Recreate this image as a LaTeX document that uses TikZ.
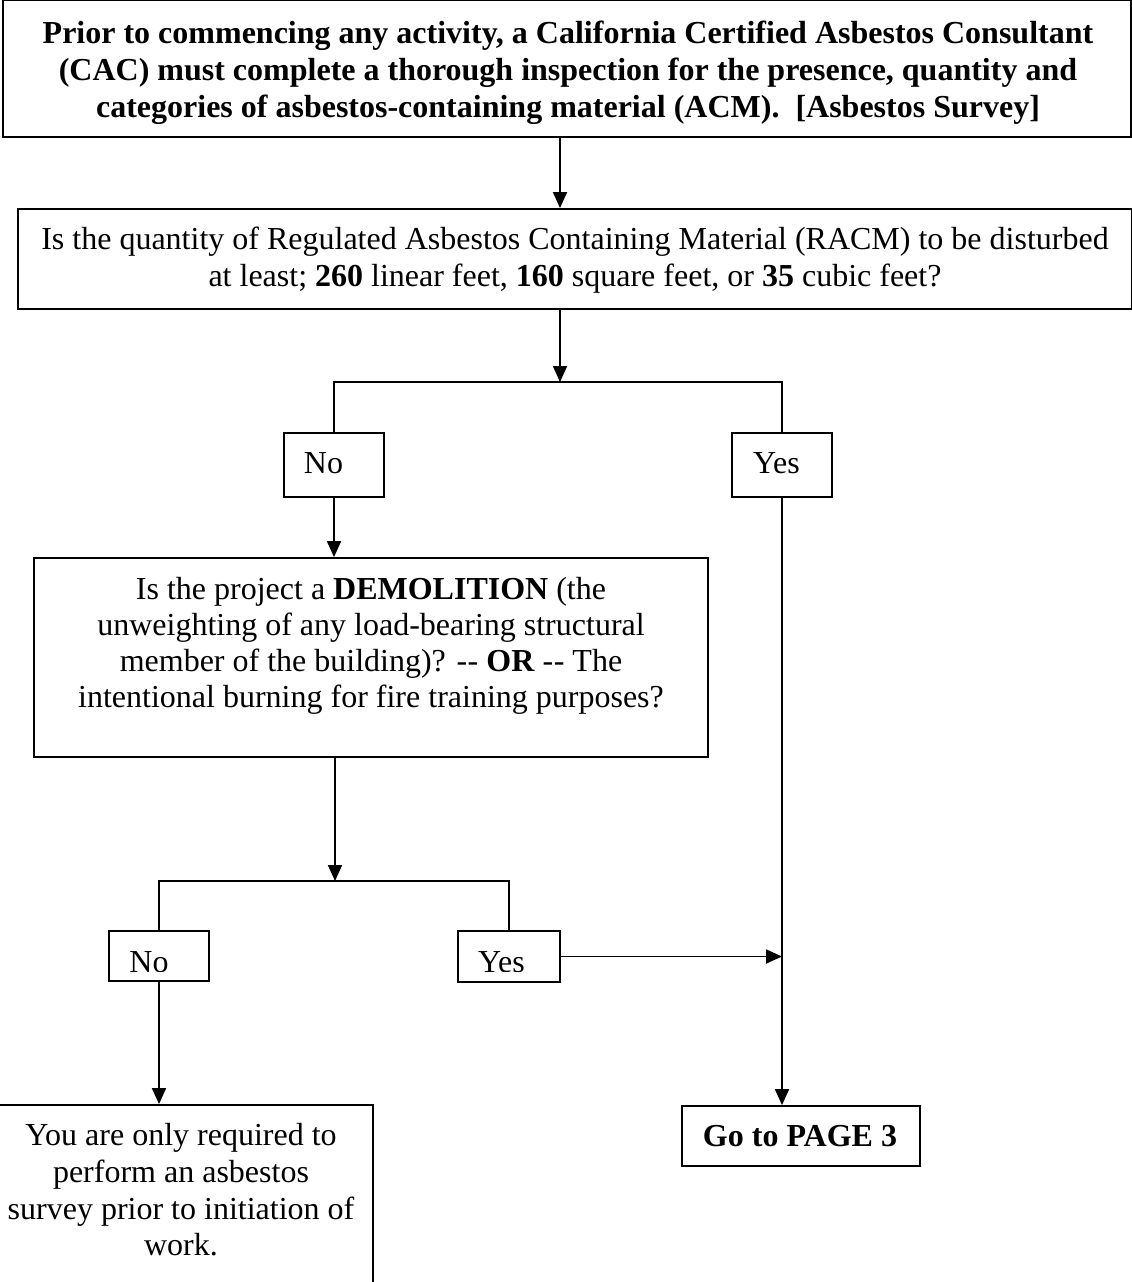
\documentclass[tikz,border=0pt]{standalone}
\usepackage{fontspec}
\setmainfont{Liberation Serif}
\usetikzlibrary{arrows.meta}
\begin{document}
\begin{tikzpicture}[x=1pt,y=-1pt,
  box/.style={draw, line width=1.8pt, inner sep=0pt, fill=none},
  ln/.style={anchor=base, inner sep=0pt, font=\fontsize{32}{37}\selectfont},
  conn/.style={line width=1.8pt},
  arr/.style={line width=1.8pt, -{Triangle[length=16pt,width=14pt]}}]
\useasboundingbox (0,0) rectangle (1132,1282);
\clip (0,0) rectangle (1132,1282);
% boxes
\node[box, minimum width=1128pt, minimum height=137pt] (top) at (567,68.5) {};
\node[box, minimum width=1114pt, minimum height=100pt] (q1) at (575,259) {};
\node[box, minimum width=100pt, minimum height=64pt] (no1) at (334,465) {};
\node[box, minimum width=100pt, minimum height=64pt] (yes1) at (782,465) {};
\node[box, minimum width=674pt, minimum height=199pt] (demo) at (371,657.5) {};
\node[box, minimum width=100pt, minimum height=50pt] (no2) at (159,956) {};
\node[box, minimum width=102pt, minimum height=51pt] (yes2) at (509,956.5) {};
\node[box, minimum width=238pt, minimum height=60pt] (go) at (801,1136) {};
\node[box, minimum width=400pt, minimum height=200pt] (final) at (173,1205) {};
% texts
\node[ln] (t1a) at (568,43) {\bfseries Prior to commencing any activity, a California Certified Asbestos Consultant};
\node[ln] (t1b) at (568,80) {\bfseries (CAC) must complete a thorough inspection for the presence, quantity and};
\node[ln] (t1c) at (568,117) {\bfseries categories of asbestos-containing material (ACM).\ \ [Asbestos Survey]};
\node[ln] (t2a) at (575,249) {Is the quantity of Regulated Asbestos Containing Material (RACM) to be disturbed};
\node[ln] (t2b) at (575,286) {at least; \textbf{260} linear feet, \textbf{160} square feet, or \textbf{35} cubic feet?};
\node[ln] (tno1) at (323.5,473) {No};
\node[ln] (tyes1) at (776.5,473) {Yes};
\node[ln] (t3a) at (371,599) {Is the project a \textbf{DEMOLITION} (the};
\node[ln] (t3b) at (371,635) {unweighting of any load-bearing structural};
\node[ln] (t3c) at (371,671) {member of the building)? -\kern0.5pt- \textbf{OR} -\kern0.5pt- The};
\node[ln] (t3d) at (371,707) {intentional burning for fire training purposes?};
\begin{scope}
\clip (100,935) rectangle (570,971);
\node[ln] (tno2) at (149,972) {No};
\node[ln] (tyes2) at (501.5,972) {Yes};
\end{scope}
\node[ln] (tgo) at (800,1146) {\bfseries Go to PAGE 3};
\node[ln] (t4a) at (181,1145) {You are only required to};
\node[ln] (t4b) at (181,1182) {perform an asbestos};
\node[ln] (t4c) at (181,1219) {survey prior to initiation of};
\node[ln] (t4d) at (181,1255) {work.};
% junctions
\coordinate (j1) at (560,382);
\coordinate (j2) at (335,881);
% connectors
\draw[arr] (top.south -| j1) -- (q1.north -| j1);
\draw[arr] (q1.south -| j1) -- (j1);
\draw[conn] (no1.north) -- (no1.north |- j1) -- (yes1.north |- j1) -- (yes1.north);
\draw[arr] (no1.south) -- (demo.north -| no1.south);
\draw[arr] (yes1.south) -- (go.north -| yes1.south);
\draw[arr] (demo.south -| j2) -- (j2);
\draw[conn] (no2.north) -- (no2.north |- j2) -- (yes2.north |- j2) -- (yes2.north);
\draw[arr] (yes2.east) -- (yes2.east -| yes1.south);
\draw[arr] (no2.south) -- (final.north -| no2.south);
\end{tikzpicture}
\end{document}
